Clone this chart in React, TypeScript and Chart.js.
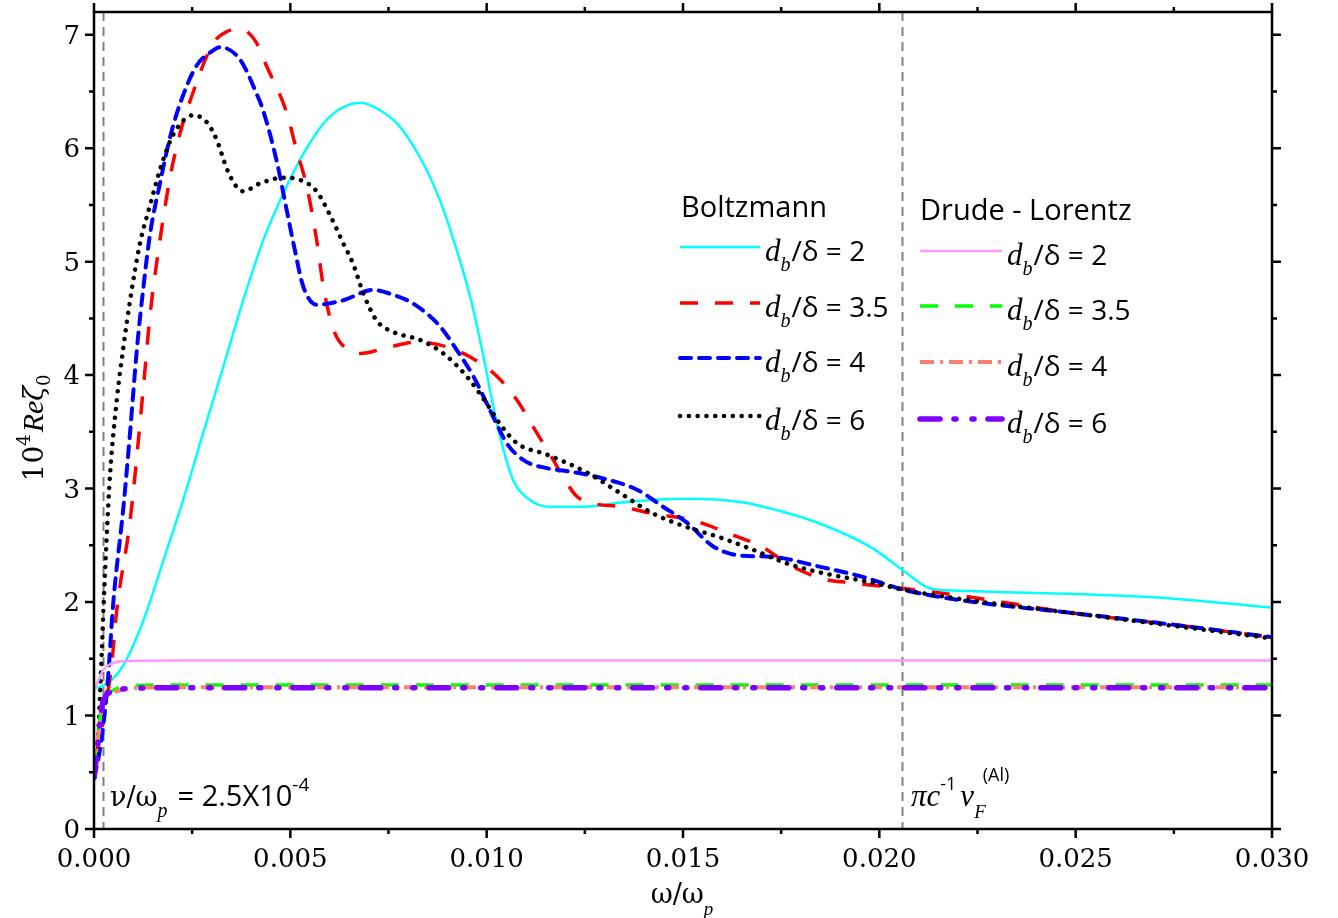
import React, { useEffect, useRef } from "react";
import { Chart, registerables } from "chart.js";

Chart.register(...registerables);

// ---------------- data ----------------
const xMin = 0;
const xMax = 0.03;
const yMin = 0;
const yMax = 7.2;
const xMajorTicks = [0, 0.005, 0.01, 0.015, 0.02, 0.025, 0.03];
const xTickLabels = ["0.000", "0.005", "0.010", "0.015", "0.020", "0.025", "0.030"];
const xMinorTicks = [0.0025, 0.0075, 0.0125, 0.0175, 0.0225, 0.0275];
const yMajorTicks = [0, 1, 2, 3, 4, 5, 6, 7];
const yTickLabels = ["0", "1", "2", "3", "4", "5", "6", "7"];
const yMinorTicks = [0.5, 1.5, 2.5, 3.5, 4.5, 5.5, 6.5];
const refLines = [0.00025, 0.0206];

// Boltzmann d_b/delta = 2
const bz2X = [0, 0.0002, 0.0004, 0.00074, 0.00126, 0.00177, 0.00227, 0.00278, 0.00329, 0.0038, 0.00431, 0.00482, 0.00533, 0.00601, 0.0068, 0.0073, 0.00771, 0.0083, 0.00881, 0.00924, 0.00958, 0.00992, 0.01017, 0.01043, 0.01068, 0.0111, 0.01161, 0.0125, 0.0135, 0.015, 0.0165, 0.0175, 0.0185, 0.0198, 0.0206, 0.0213, 0.022, 0.025, 0.0275, 0.03];
const bz2Y = [1.24, 1.26, 1.3, 1.44, 1.84, 2.37, 2.9, 3.49, 4.07, 4.66, 5.19, 5.6, 5.95, 6.28, 6.4, 6.33, 6.22, 5.92, 5.54, 5.1, 4.69, 4.16, 3.72, 3.34, 3.07, 2.9, 2.84, 2.84, 2.88, 2.91, 2.88, 2.8, 2.69, 2.48, 2.28, 2.12, 2.1, 2.07, 2.03, 1.95];

// Boltzmann d_b/delta = 3.5
const bz35X = [0, 0.00015, 0.00028, 0.00045, 0.00058, 0.00092, 0.00126, 0.00143, 0.00168, 0.00194, 0.00219, 0.00245, 0.00303, 0.0034, 0.00372, 0.0041, 0.0044, 0.00491, 0.00516, 0.00542, 0.00567, 0.00584, 0.0061, 0.00648, 0.00678, 0.00754, 0.00822, 0.00898, 0.00958, 0.01026, 0.01077, 0.01119, 0.0117, 0.01195, 0.0123, 0.0127, 0.0134, 0.01424, 0.01526, 0.01628, 0.01705, 0.01765, 0.0185, 0.01926, 0.0206, 0.022, 0.025, 0.0275, 0.03];
const bz35Y = [0.6, 0.8, 1.05, 1.45, 1.93, 2.72, 3.9, 4.54, 5.19, 5.75, 6.13, 6.42, 6.92, 7.03, 7.05, 6.95, 6.72, 6.31, 5.98, 5.66, 5.19, 4.78, 4.4, 4.22, 4.19, 4.25, 4.29, 4.25, 4.16, 3.99, 3.78, 3.54, 3.25, 3.1, 2.93, 2.87, 2.84, 2.78, 2.72, 2.59, 2.48, 2.34, 2.21, 2.17, 2.12, 2.06, 1.9, 1.8, 1.69];

// Boltzmann d_b/delta = 4
const bz4X = [0, 0.0001, 0.0002, 0.00035, 0.00049, 0.00075, 0.00092, 0.00109, 0.00126, 0.00143, 0.00168, 0.00194, 0.00219, 0.0026, 0.00303, 0.00321, 0.00372, 0.00414, 0.00431, 0.00465, 0.00491, 0.00508, 0.00533, 0.00567, 0.00635, 0.0071, 0.0076, 0.00813, 0.00881, 0.00924, 0.00966, 0.01017, 0.01051, 0.01094, 0.01153, 0.01212, 0.01296, 0.01383, 0.01449, 0.0151, 0.01577, 0.01646, 0.01722, 0.0185, 0.0196, 0.0206, 0.022, 0.025, 0.0275, 0.03];
const bz4Y = [0.45, 0.6, 0.81, 1.3, 1.99, 2.84, 3.5, 4.22, 4.78, 5.25, 5.69, 6.1, 6.39, 6.72, 6.86, 6.89, 6.78, 6.48, 6.33, 5.89, 5.45, 5.16, 4.78, 4.62, 4.66, 4.75, 4.71, 4.63, 4.43, 4.22, 3.99, 3.63, 3.4, 3.25, 3.18, 3.15, 3.09, 2.99, 2.84, 2.7, 2.49, 2.41, 2.4, 2.31, 2.22, 2.11, 2.02, 1.9, 1.8, 1.69];

// Boltzmann d_b/delta = 6
const bz6X = [0, 0.0001, 0.00018, 0.00024, 0.00032, 0.00041, 0.00058, 0.00075, 0.00092, 0.00117, 0.00143, 0.00168, 0.00202, 0.00253, 0.00287, 0.00313, 0.00338, 0.00363, 0.0038, 0.00423, 0.00482, 0.00525, 0.00567, 0.00601, 0.00635, 0.0066, 0.00686, 0.0072, 0.00762, 0.0083, 0.0089, 0.00949, 0.01, 0.01034, 0.01077, 0.01153, 0.01256, 0.0134, 0.01424, 0.0151, 0.01594, 0.01679, 0.01765, 0.0185, 0.01969, 0.0206, 0.022, 0.025, 0.0275, 0.03];
const bz6Y = [0.45, 0.8, 1.4, 1.93, 2.55, 3.13, 3.78, 4.25, 4.66, 5.16, 5.5, 5.81, 6.12, 6.29, 6.23, 6.07, 5.82, 5.66, 5.62, 5.69, 5.74, 5.72, 5.62, 5.41, 5.16, 4.98, 4.72, 4.48, 4.38, 4.31, 4.19, 3.99, 3.75, 3.57, 3.4, 3.3, 3.14, 2.96, 2.78, 2.66, 2.57, 2.46, 2.34, 2.26, 2.18, 2.11, 2.03, 1.9, 1.79, 1.68];

// Drude-Lorentz
const dl2X = [0, 0.0001, 0.00023, 0.0004, 0.00074, 0.002, 0.03];
const dl2Y = [1.22, 1.3, 1.4, 1.45, 1.48, 1.485, 1.485];
const dl35X = [0, 0.0001, 0.00023, 0.00048, 0.0009, 0.002, 0.03];
const dl35Y = [0.55, 0.85, 1.13, 1.22, 1.26, 1.27, 1.27];
const dl4X = [0, 0.0001, 0.00023, 0.00048, 0.0009, 0.002, 0.03];
const dl4Y = [0.5, 0.8, 1.12, 1.2, 1.24, 1.25, 1.25];
const dl6X = [0, 0.0001, 0.00023, 0.00048, 0.00092, 0.002, 0.03];
const dl6Y = [0.45, 0.75, 1.12, 1.21, 1.24, 1.245, 1.245];

const seriesNames = ["B2", "B3.5", "B4", "B6", "D2", "D3.5", "D4", "D6"];
const legendValues = ["2", "3.5", "4", "6"];

// ---------------- styles ----------------
const SERIF = '"DejaVu Serif"';
const SANS = '"Open Sans"';
const ISERIF = '"Liberation Serif"';

const styles = [
  { color: "#00FFFF", width: 2.5, dash: [] as number[], cap: "butt", order: 7 },
  { color: "#FF0000", width: 3.5, dash: [18, 17], cap: "butt", order: 6 },
  { color: "#0000FF", width: 4, dash: [11, 8], cap: "round", order: 5 },
  { color: "#000000", width: 4.5, dash: [0.1, 8.7], cap: "round", order: 4 },
  { color: "#FF99FF", width: 2.5, dash: [] as number[], cap: "butt", order: 3 },
  { color: "#00FF00", width: 3.5, dash: [18, 17], cap: "butt", order: 2 },
  { color: "#FA8072", width: 4, dash: [14, 6, 3, 6], cap: "butt", order: 1 },
  { color: "#8000FF", width: 5.5, dash: [20, 14, 2, 16, 2, 14], cap: "round", order: 0 },
];

const xs = [bz2X, bz35X, bz4X, bz6X, dl2X, dl35X, dl4X, dl6X];
const ys = [bz2Y, bz35Y, bz4Y, bz6Y, dl2Y, dl35Y, dl4Y, dl6Y];

type Seg = { t: string; f: string; dy?: number; dx?: number };

function drawRich(ctx: CanvasRenderingContext2D, x: number, y: number, segs: Seg[]) {
  let cx = x;
  for (const s of segs) {
    ctx.font = s.f;
    ctx.fillText(s.t, cx, y + (s.dy || 0));
    cx += ctx.measureText(s.t).width + (s.dx || 0);
  }
  return cx;
}

function richWidth(ctx: CanvasRenderingContext2D, segs: Seg[]) {
  let w = 0;
  for (const s of segs) {
    ctx.font = s.f;
    w += ctx.measureText(s.t).width + (s.dx || 0);
  }
  return w;
}

function ratioSegs(v: string): Seg[] {
  return [
    { t: "d", f: `italic 31px ${ISERIF}` },
    { t: "b", f: `italic 20px ${ISERIF}`, dy: 10, dx: 1 },
    { t: "/δ = " + v, f: `28px ${SANS}` },
  ];
}

const overlayPlugin = {
  id: "overlay",
  beforeDatasetsDraw(chart: any) {
    const ctx = chart.ctx as CanvasRenderingContext2D;
    const xs_ = chart.scales.x;
    const { top, bottom } = chart.chartArea;
    ctx.save();
    ctx.strokeStyle = "#808080";
    ctx.lineWidth = 2;
    ctx.setLineDash([9, 6]);
    for (const v of refLines) {
      const px = Math.round(xs_.getPixelForValue(v)) - 0.5;
      ctx.beginPath();
      ctx.moveTo(px, top);
      ctx.lineTo(px, bottom);
      ctx.stroke();
    }
    ctx.restore();
  },
  afterDraw(chart: any) {
    const ctx = chart.ctx as CanvasRenderingContext2D;
    const sx = chart.scales.x;
    const sy = chart.scales.y;
    const { left, right, top, bottom } = chart.chartArea;
    ctx.save();
    ctx.setLineDash([]);
    ctx.strokeStyle = "#000";
    ctx.lineWidth = 2.5;
    ctx.strokeRect(left, top, right - left, bottom - top);

    const majorLen = 9;
    const minorLen = 5;
    const drawX = (v: number, len: number) => {
      const px = sx.getPixelForValue(v);
      ctx.beginPath();
      ctx.moveTo(px, bottom);
      ctx.lineTo(px, bottom + len);
      ctx.moveTo(px, top);
      ctx.lineTo(px, top - len);
      ctx.stroke();
    };
    xMajorTicks.forEach((v) => drawX(v, majorLen));
    xMinorTicks.forEach((v) => drawX(v, minorLen));
    const drawY = (v: number, len: number) => {
      const py = sy.getPixelForValue(v);
      ctx.beginPath();
      ctx.moveTo(left, py);
      ctx.lineTo(left - len, py);
      ctx.moveTo(right, py);
      ctx.lineTo(right + len, py);
      ctx.stroke();
    };
    yMajorTicks.forEach((v) => drawY(v, majorLen));
    yMinorTicks.forEach((v) => drawY(v, minorLen));

    // tick labels
    ctx.fillStyle = "#000";
    ctx.font = `26px ${SERIF}`;
    ctx.textAlign = "center";
    ctx.textBaseline = "alphabetic";
    xMajorTicks.forEach((v, i) => {
      ctx.fillText(xTickLabels[i], sx.getPixelForValue(v), bottom + 38);
    });
    ctx.textAlign = "right";
    yMajorTicks.forEach((v, i) => {
      ctx.fillText(yTickLabels[i], left - 14, sy.getPixelForValue(v) + 9);
    });

    // x title
    ctx.textAlign = "left";
    const xt: Seg[] = [
      { t: "ω/ω", f: `27px ${SERIF}` },
      { t: "p", f: `italic 19px ${ISERIF}`, dy: 12, dx: 2 },
    ];
    const xtw = richWidth(ctx, xt);
    drawRich(ctx, (left + right) / 2 - xtw / 2, 903, xt);

    // y title
    ctx.save();
    ctx.translate(43, 428);
    ctx.rotate(-Math.PI / 2);
    const yt: Seg[] = [
      { t: "10", f: `28px ${SERIF}` },
      { t: "4", f: `18px ${SERIF}`, dy: -13, dx: 2 },
      { t: "Re", f: `italic 30px ${ISERIF}` },
      { t: "ζ", f: `italic 27px ${SERIF}` },
      { t: "0", f: `18px ${SERIF}`, dy: 7 },
    ];
    const ytw = richWidth(ctx, yt);
    drawRich(ctx, -ytw / 2, 0, yt);
    ctx.restore();

    // annotations
    drawRich(ctx, 110, 806, [
      { t: "ν/ω", f: `27px ${SERIF}` },
      { t: "p", f: `italic 20px ${ISERIF}`, dy: 11, dx: 10 },
      { t: "= 2.5X10", f: `29px ${SANS}` },
      { t: "-4", f: `19px ${SANS}`, dy: -15 },
    ]);
    drawRich(ctx, 911, 806, [
      { t: "πc", f: `italic 31px ${ISERIF}` },
      { t: "-1", f: `18px ${SANS}`, dy: -16, dx: 4 },
      { t: "v", f: `italic 31px ${ISERIF}` },
      { t: "F", f: `italic 19px ${ISERIF}`, dy: 12, dx: -3 },
      { t: "(Al)", f: `18px ${SANS}`, dy: -25 },
    ]);

    // legend
    const ds = chart.data.datasets;
    ctx.font = `29px ${SANS}`;
    ctx.fillText("Boltzmann", 681, 217);
    ctx.fillText("Drude - Lorentz", 920, 220);
    const bRows = [247, 303, 358, 416];
    const dRows = [251, 306, 362, 419];
    const drawEntry = (i: number, x0: number, x1: number, y: number, tx: number, v: string) => {
      const d = ds[i];
      ctx.save();
      ctx.strokeStyle = d.borderColor;
      ctx.lineWidth = d.borderWidth;
      ctx.setLineDash(d.borderDash || []);
      ctx.lineCap = d.borderCapStyle || "butt";
      ctx.beginPath();
      ctx.moveTo(x0, y);
      ctx.lineTo(x1, y);
      ctx.stroke();
      ctx.restore();
      ctx.fillStyle = "#000";
      drawRich(ctx, tx, y + 14, ratioSegs(v));
    };
    for (let k = 0; k < 4; k++) {
      drawEntry(k, 680, 760, bRows[k], 765, legendValues[k]);
      drawEntry(k + 4, 920, 1002, dRows[k], 1007, legendValues[k]);
    }
    ctx.restore();
  },
};

export default function App() {
  const canvasRef = useRef<HTMLCanvasElement | null>(null);
  useEffect(() => {
    const canvas = canvasRef.current;
    if (!canvas) return;
    const datasets = seriesNames.map((name, i) => ({
      label: name,
      data: xs[i].map((x, j) => ({ x, y: ys[i][j] })),
      borderColor: styles[i].color,
      backgroundColor: styles[i].color,
      borderWidth: styles[i].width,
      borderDash: styles[i].dash,
      borderCapStyle: styles[i].cap,
      borderJoinStyle: "round",
      pointRadius: 0,
      fill: false,
      cubicInterpolationMode: "monotone",
      order: styles[i].order,
    }));
    const chart = new Chart(canvas, {
      type: "line",
      data: { datasets } as any,
      options: {
        animation: false,
        responsive: false,
        devicePixelRatio: 1,
        events: [],
        layout: { padding: { left: 94, right: 66, top: 12, bottom: 89 } },
        plugins: { legend: { display: false }, tooltip: { enabled: false } },
        scales: {
          x: { type: "linear", display: false, min: xMin, max: xMax },
          y: { type: "linear", display: false, min: yMin, max: yMax },
        },
      } as any,
      plugins: [overlayPlugin],
    });
    return () => chart.destroy();
  }, []);
  return (
    <div style={{ position: "absolute", left: 0, top: 0, width: 1338, height: 918, background: "#fff" }}>
      <canvas ref={canvasRef} width={1338} height={918} style={{ display: "block" }} />
    </div>
  );
}
